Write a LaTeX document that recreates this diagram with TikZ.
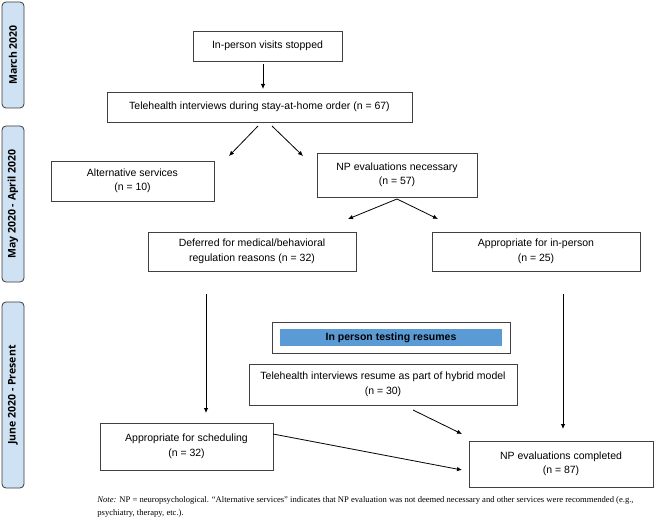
\documentclass[tikz,border=0pt]{standalone}
\usepackage{fontspec}
\setmainfont{Liberation Serif}
\newfontfamily\boxfont{Liberation Sans}
\newfontfamily\barfont{Open Sans}
\usepackage{tikz}
\usetikzlibrary{arrows.meta}
\definecolor{barfill}{HTML}{CFE2F3}
\definecolor{barline}{HTML}{3A3A3A}
\definecolor{boxline}{HTML}{404040}
\definecolor{resumeblue}{HTML}{5B9BD5}

\begin{document}
\begin{tikzpicture}[x=1pt, y=-1pt, line width=0.8pt,
  box/.style={draw=boxline, align=center, inner sep=0pt,
    font=\boxfont\fontsize{10.5}{14.5}\selectfont},
  bar/.style={draw=barline, fill=barfill, rounded corners=4pt, rotate=90,
    inner sep=0pt, minimum height=22pt,
    font=\barfont\bfseries\fontsize{10.5}{12}\selectfont},
  arr/.style={-{Latex[length=5pt,width=4.5pt]}, draw=black}]
\useasboundingbox (0,0) rectangle (666,521);

% time line on the left
\node[bar, minimum width=106pt] (march) at (13, 55)  {March 2020};
\node[bar, minimum width=156pt] (april) at (13,204)  {May 2020 - April 2020};
\node[bar, minimum width=186pt] (june)  at (13,395)  {June 2020 - Present};

% boxes
\node[box, minimum width=149pt, minimum height=30pt] (stop) at (267.5, 46) {In-person visits stopped};
\node[box, minimum width=305pt, minimum height=30pt] (tele) at (259.5,107) {Telehealth interviews during stay-at-home order (n = 67)};
\node[box, minimum width=163pt, minimum height=40pt] (alt)  at (132.5,181) {Alternative services\\(n = 10)};
\node[box, minimum width=160pt, minimum height=44pt] (nec)  at (397,175)   {NP evaluations necessary\\(n = 57)};
\node[box, minimum width=208pt, minimum height=39pt] (def)  at (252,251.5) {Deferred for medical/behavioral\\regulation reasons (n = 32)};
\node[box, minimum width=208pt, minimum height=39pt] (inp)  at (536,251.5) {Appropriate for in-person\\(n = 25)};
\node[box, minimum width=238pt, minimum height=31pt] (res)  at (391,337.5) {};
\node[fill=resumeblue, minimum width=222pt, minimum height=17pt, inner sep=0pt,
  font=\boxfont\bfseries\fontsize{10.5}{12}\selectfont] (resbar) at (res.center) {In person testing resumes};
\node[box, minimum width=268pt, minimum height=41pt] (hyb)  at (383,384.5) {Telehealth interviews resume as part of hybrid model\\(n = 30)};
\node[box, minimum width=173pt, minimum height=47pt] (sch)  at (186.5,446.5) {Appropriate for scheduling\\(n = 32)};
\node[box, minimum width=184pt, minimum height=46pt] (done) at (561,464)  {NP evaluations completed\\(n = 87)};

% arrow ends
\coordinate (P1) at (263, 64) ;
\coordinate (P2) at (263, 89) ;
\coordinate (T1) at (258,126) ;
\coordinate (T2) at (272,126) ;
\coordinate (A1) at (229,156) ;
\coordinate (A2) at (303,156) ;
\coordinate (N1) at (397,199) ;
\coordinate (D1) at (348,219) ;
\coordinate (D2) at (438,219) ;
\coordinate (V1) at (206,294) ;
\coordinate (V2) at (206,413) ;
\coordinate (W1) at (563,294) ;
\coordinate (W2) at (563,429) ;
\coordinate (H1) at (413,410) ;
\coordinate (H2) at (462,434) ;
\coordinate (S1) at (273,434) ;
\coordinate (S2) at (462,470) ;

\draw[arr] (P1) -- (P2);
\draw[arr] (T1) -- (A1);
\draw[arr] (T2) -- (A2);
\draw[arr] (N1) -- (D1);
\draw[arr] (N1) -- (D2);
\draw[arr] (V1) -- (V2);
\draw[arr] (W1) -- (W2);
\draw[arr] (H1) -- (H2);
\draw[arr] (S1) -- (S2);

% note
\node[anchor=north west, align=left, inner sep=0pt, font=\fontsize{8.6}{13.5}\selectfont] (note) at (97,496)
  {\textit{Note:} NP = neuropsychological. “Alternative services” indicates that NP evaluation was not deemed necessary and other services were recommended (e.g.,\\psychiatry, therapy, etc.).};
\end{tikzpicture}
\end{document}
